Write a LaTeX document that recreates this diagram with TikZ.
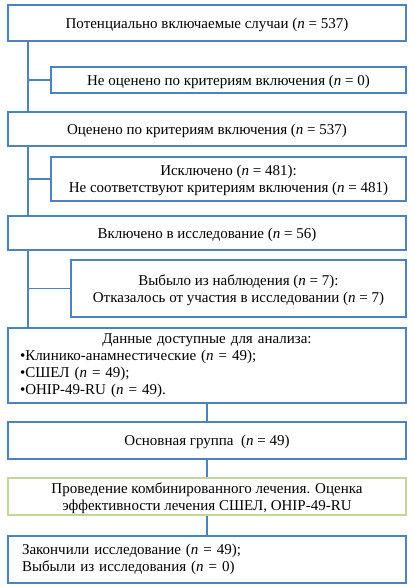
\documentclass[tikz,border=0pt]{standalone}
\usepackage{fontspec}
\setmainfont{Liberation Serif}
\definecolor{bord}{HTML}{4F81BD}
\definecolor{gbord}{HTML}{C3D69B}
\tikzset{
  basebox/.style={draw=bord, line width=1.2pt, inner sep=0pt, align=center, font=\fontsize{15}{17}\selectfont},
  box/.style={basebox, text depth=0pt},
  gbox/.style={box, draw=gbord, line width=1.4pt},
  link/.style={draw=bord, line width=1.2pt}
}
\begin{document}
\begin{tikzpicture}[x=1pt,y=1pt]
\useasboundingbox (0,0) rectangle (413,-587);
\node[box, minimum width=398pt, minimum height=36pt] (b1) at (207,-23) {Потенциально включаемые случаи (\textit{n} = 537)};
\node[box, minimum width=355pt, minimum height=26pt] (b2) at (228.5,-80) {Не оценено по критериям включения (\textit{n} = 0)};
\node[box, minimum width=398pt, minimum height=34pt] (b3) at (207,-129) {Оценено по критериям включения (\textit{n} = 537)};
\node[box, minimum width=355pt, minimum height=44pt] (b4) at (228.5,-179) {Исключено (\textit{n} = 481):\\Не соответствуют критериям включения (\textit{n} = 481)};
\node[box, minimum width=398pt, minimum height=34pt] (b5) at (207,-233) {Включено в исследование (\textit{n} = 56)};
\node[box, minimum width=335pt, minimum height=57pt] (b6) at (238.5,-288.5) {Выбыло из наблюдения (\textit{n} = 7):\\Отказалось от участия в исследовании (\textit{n} = 7)};
\node[basebox, minimum width=398pt, minimum height=75pt, text width=374pt, align=left] (b7) at (207,-365.5) {\makebox[374pt][c]{Данные доступные для анализа:}\\•Клинико-анамнестические (\textit{n} = 49);\\•СШЕЛ (\textit{n} = 49);\\•OHIP-49-RU (\textit{n} = 49).};
\node[box, minimum width=398pt, minimum height=37pt] (b8) at (207,-440.5) {Основная группа~ (\textit{n} = 49)};
\node[gbox, minimum width=398pt, minimum height=37pt] (b9) at (207,-496.5) {Проведение комбинированного лечения. Оценка\\эффективности лечения СШЕЛ, OHIP-49-RU};
\node[basebox, minimum width=398pt, minimum height=47pt, text width=370pt, align=left] (b10) at (207,-559.5) {Закончили исследование (\textit{n} = 49);\\Выбыли из исследования (\textit{n} = 0)};
\coordinate (s1) at (28,-41);
\coordinate (s2) at (28,-250);
\draw[link] (s1) -- (s1 |- b3.north);
\draw[link] (b2.west) -- (b2.west -| s1);
\draw[link] (b3.south -| s1) -- (b5.north -| s1);
\draw[link] (b4.west) -- (b4.west -| s1);
\draw[link] (s2) -- (s2 |- b7.north);
\draw[link] (b6.west) -- (b6.west -| s2);
\draw[link] (b7.south) -- (b8.north);
\draw[link] (b8.south) -- (b9.north);
\draw[link] (b9.south) -- (b10.north);
\end{tikzpicture}
\end{document}
